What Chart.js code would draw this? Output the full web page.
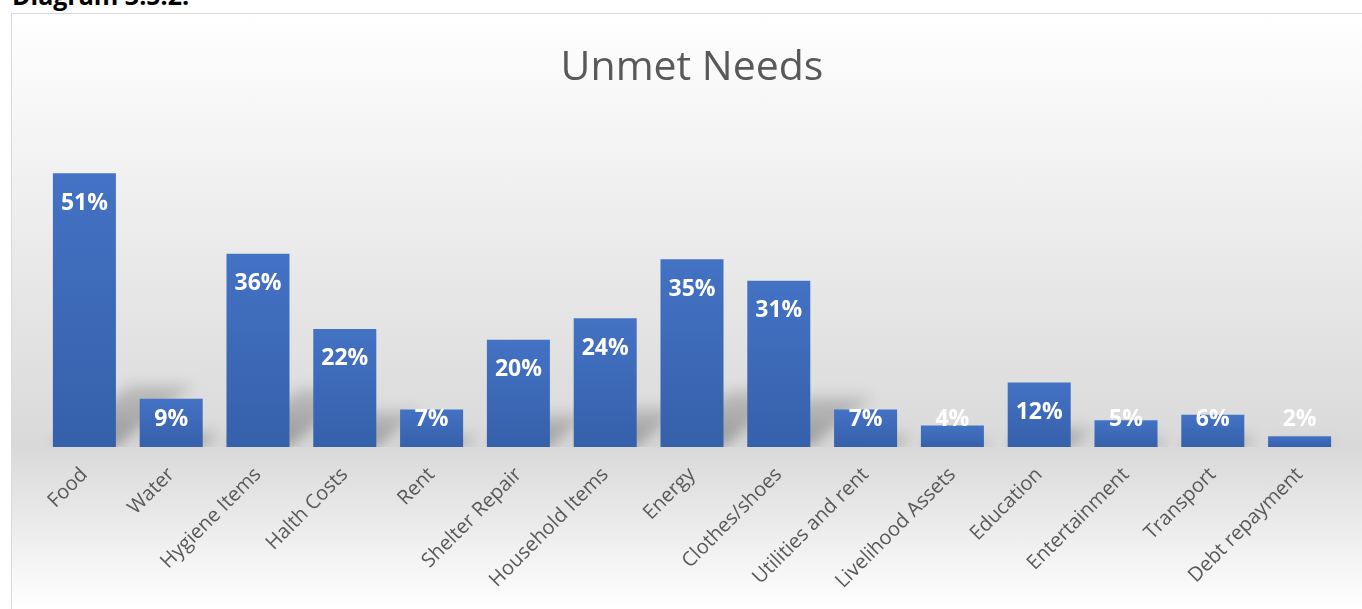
<!DOCTYPE html>
<html>
<head>
<meta charset="utf-8">
<title>Unmet Needs</title>
<script src="https://cdn.jsdelivr.net/npm/chart.js@4.4.1/dist/chart.umd.min.js"></script>
<style>
  html, body { margin: 0; padding: 0; background: #fff; overflow: hidden; }
  body { width: 1362px; height: 609px; position: relative; }
  #caption { position: absolute; left: 12px; top: -22px; font: bold 25px "Open Sans", sans-serif; color: #000; white-space: nowrap; }
  #frame {
    position: absolute; left: 11px; top: 13px; width: 1351px; height: 596px;
    border-left: 1px solid #d9d9d9; border-top: 1px solid #d9d9d9;
    background: linear-gradient(to bottom, #ffffff 0px, #d9d9d9 433px, #ffffff 596px);
  }
  #chart { display: block; }
</style>
</head>
<body>
<div id="caption">Diagram 3.5.2.</div>
<div id="frame"><canvas id="chart" width="1350" height="596"></canvas></div>
<script>
// categories and percentages
var categories = ['Food', 'Water', 'Hygiene Items', 'Halth Costs', 'Rent', 'Shelter Repair',
  'Household Items', 'Energy', 'Clothes/shoes', 'Utilities and rent', 'Livelihood Assets',
  'Education', 'Entertainment', 'Transport', 'Debt repayment'];
var shares = [51, 9, 36, 22, 7, 20, 24, 35, 31, 7, 4, 12, 5, 6, 2];
var chartTitle = 'Unmet Needs';
var yMax = 60;

var ctx = document.getElementById('chart');

// skewed soft shadow behind each bar
var barShadows = {
  id: 'barShadows',
  beforeDatasetsDraw: function (chart) {
    var c = chart.ctx;
    var base = chart.scales.y.getPixelForValue(0);
    c.save();
    c.beginPath();
    c.rect(0, 0, chart.width, base);
    c.clip();
    c.filter = 'blur(7px)';
    chart.getDatasetMeta(0).data.forEach(function (bar) {
      var h = base - bar.y;
      var sh = Math.min(h * 0.3, 62);
      var dx = sh * 1.25;
      var x0 = bar.x - bar.width / 2, x1 = bar.x + bar.width / 2;
      var g = c.createLinearGradient(0, base, 0, base - sh);
      g.addColorStop(0, 'rgba(0,0,0,0.30)');
      g.addColorStop(1, 'rgba(0,0,0,0.14)');
      c.fillStyle = g;
      c.beginPath();
      c.moveTo(x0, base);
      c.lineTo(x1, base);
      c.lineTo(x1 + dx, base - sh);
      c.lineTo(x0 + dx, base - sh);
      c.closePath();
      c.fill();
    });
    c.restore();
  }
};

// white value labels near the top of each bar
var barLabels = {
  id: 'barLabels',
  afterDatasetsDraw: function (chart) {
    var c = chart.ctx;
    var base = chart.scales.y.getPixelForValue(0);
    c.save();
    c.font = 'bold 23px "Open Sans"';
    c.fillStyle = '#ffffff';
    c.textAlign = 'center';
    c.textBaseline = 'middle';
    chart.getDatasetMeta(0).data.forEach(function (bar, i) {
      var y = Math.min(bar.y + 30, base - 28);
      c.fillText(shares[i] + '%', bar.x, y);
    });
    c.restore();
  }
};

var chartHeading = {
  id: 'chartHeading',
  afterDraw: function (chart) {
    var c = chart.ctx;
    c.save();
    c.font = '41px "Open Sans"';
    c.fillStyle = '#595959';
    c.textAlign = 'center';
    c.textBaseline = 'middle';
    c.fillText(chartTitle, 680, 54);
    c.restore();
  }
};

var myChart = new Chart(ctx, {
  type: 'bar',
  data: {
    labels: categories,
    datasets: [{
      label: chartTitle,
      data: shares,
      backgroundColor: function (context) {
        var chart = context.chart;
        if (!chart.chartArea) return '#4472c4';
        var y = chart.scales.y;
        var top = y.getPixelForValue(context.raw);
        var base = y.getPixelForValue(0);
        var g = chart.ctx.createLinearGradient(0, top, 0, base);
        g.addColorStop(0, '#4472c4');
        g.addColorStop(1, '#3560aa');
        return g;
      },
      borderWidth: 0,
      barPercentage: 0.726,
      categoryPercentage: 1.0
    }]
  },
  options: {
    responsive: false,
    animation: false,
    layout: { padding: { left: 29, right: 19, top: 111, bottom: 0 } },
    plugins: {
      legend: { display: false },
      title: { display: false },
      tooltip: { enabled: false }
    },
    scales: {
      x: {
        grid: { display: false },
        border: { display: false },
        ticks: {
          color: '#595959',
          font: { family: 'Open Sans', size: 20 },
          minRotation: 45,
          maxRotation: 45,
          autoSkip: false,
          padding: 8
        },
        afterFit: function (scale) { scale.height = 163; }
      },
      y: {
        display: false,
        min: 0,
        max: yMax
      }
    }
  },
  plugins: [barShadows, barLabels, chartHeading]
});
</script>
</body>
</html>
